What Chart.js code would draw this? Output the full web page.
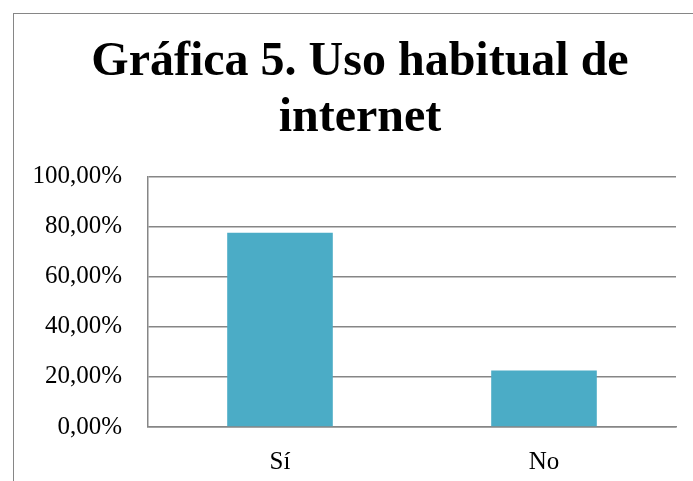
<!DOCTYPE html>
<html>
<head>
<meta charset="utf-8">
<script src="https://cdn.jsdelivr.net/npm/chart.js@4/dist/chart.umd.min.js"></script>
<style>
  html, body { margin: 0; padding: 0; background: #ffffff; overflow: hidden; }
  #chartBox {
    position: absolute;
    left: 13px;
    top: 13px;
    width: 692px;
    height: 480px;
    border: 1px solid #868686;
  }
</style>
</head>
<body>
<div id="chartBox"><canvas id="usoChart" width="692" height="480"></canvas></div>
<script>
// categorias y valores (porcentaje)
var categorias   = ['Sí', 'No'];
var valoresUso   = [77.5, 22.5];
var tituloLineas = ['Gráfica 5. Uso habitual de', 'internet'];

var colorBarra = '#4BACC6';
var colorGris  = '#868686';
var fuente     = '"Liberation Serif", "Times New Roman", serif';

function formatPct(v){
    return v.toFixed(2).replace('.', ',') + '%';
}

var ctx = document.getElementById('usoChart').getContext('2d');
var myChart = new Chart(ctx, {
    type: 'bar',
    data: {
        labels: categorias,
        datasets: [{
            label: 'Uso habitual de internet',
            data: valoresUso,
            backgroundColor: colorBarra,
            borderWidth: 0,
            barPercentage: 0.4,
            categoryPercentage: 1.0
        }]
    },
    options: {
        responsive: false,
        animation: false,
        layout: { padding: 0 },
        plugins: {
            legend: { display: false },
            tooltip: { enabled: false },
            title: {
                display: true,
                text: tituloLineas,
                color: '#000000',
                font: { family: fuente, size: 48, weight: 'bold', lineHeight: 1.16 },
                padding: { top: 21, bottom: 30 }
            }
        },
        scales: {
            x: {
                grid: { display: false, drawTicks: false },
                border: { display: true, color: colorGris, width: 1.5 },
                ticks: {
                    color: '#000000',
                    padding: 20,
                    font: { family: fuente, size: 25 }
                },
                afterFit: function(scale){ scale.height = 67; }
            },
            y: {
                min: 0,
                max: 100,
                grid: { color: colorGris, lineWidth: 1.5, drawTicks: false },
                border: { display: true, color: colorGris, width: 1.5 },
                ticks: {
                    stepSize: 20,
                    color: '#000000',
                    padding: 26,
                    font: { family: fuente, size: 25 },
                    callback: function(value){ return formatPct(value); }
                },
                afterFit: function(scale){ scale.width = 134; }
            },
            // eje vacio a la derecha: solo deja el margen derecho del area
            margenDer: {
                type: 'linear',
                position: 'right',
                display: true,
                grid: { display: false, drawTicks: false },
                border: { display: false },
                ticks: { display: false },
                afterFit: function(scale){ scale.width = 30; }
            }
        }
    }
});
</script>
</body>
</html>
